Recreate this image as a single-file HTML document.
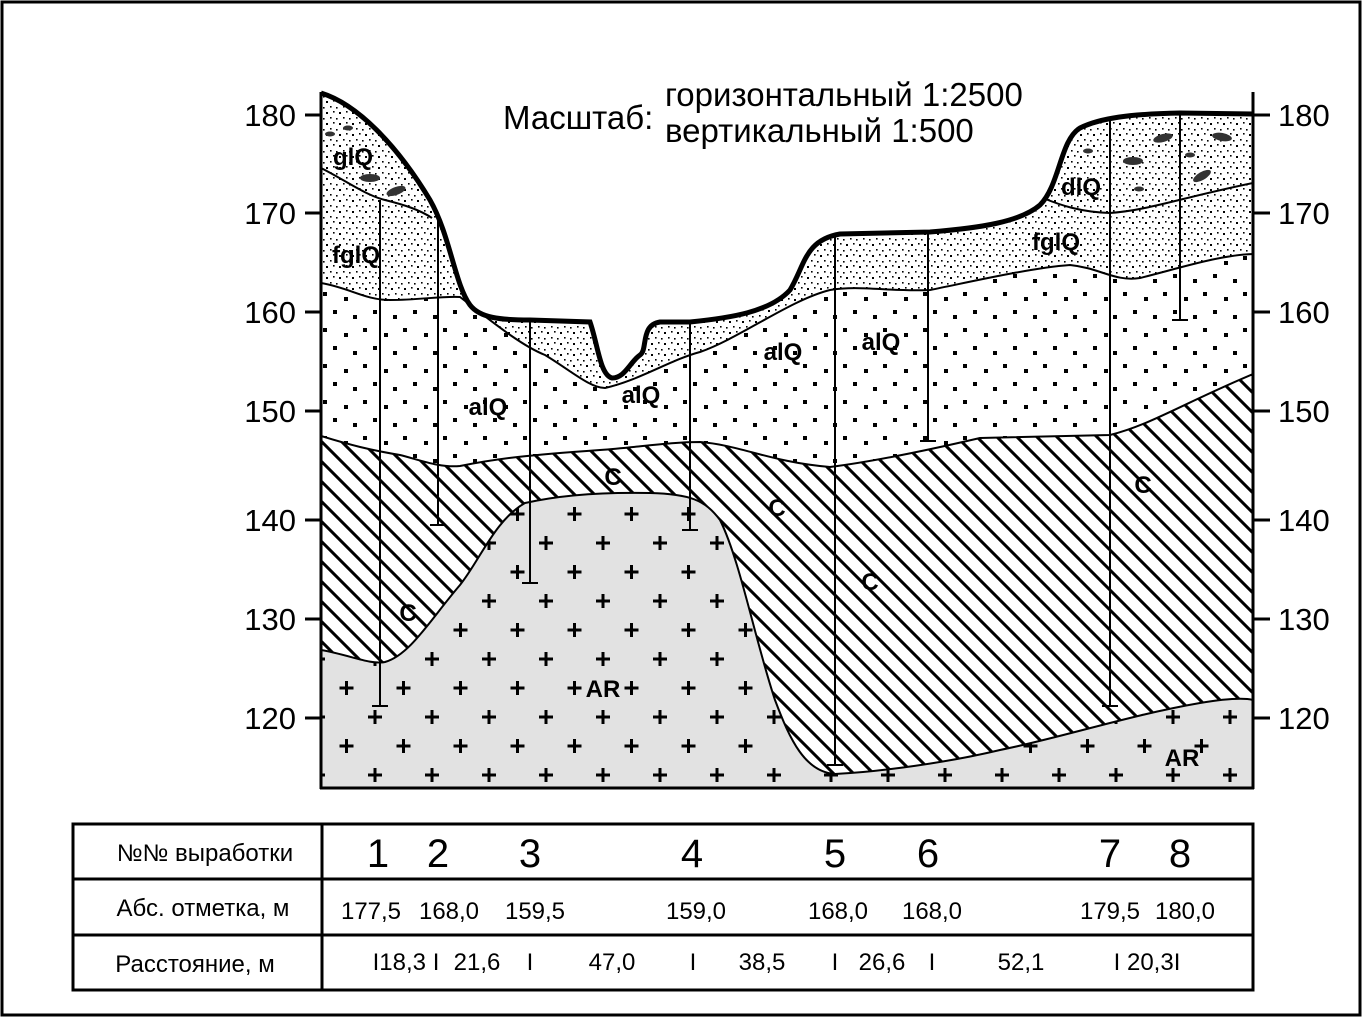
<!DOCTYPE html>
<html><head><meta charset="utf-8"><style>
html,body{margin:0;padding:0;background:#fff}
svg{display:block}
text{font-family:"Liberation Sans",Arial,sans-serif}
</style></head><body>
<svg width="1364" height="1018" viewBox="0 0 1364 1018" xmlns="http://www.w3.org/2000/svg">
<defs>
<pattern id="fine" width="13" height="11" patternUnits="userSpaceOnUse">
<rect width="13" height="11" fill="#fff"/>
<rect x="1" y="2" width="2" height="2" fill="#000"/><rect x="8" y="1" width="1.6" height="1.6" fill="#000"/>
<rect x="5" y="7" width="1.6" height="1.6" fill="#000"/><rect x="11" y="8" width="1.6" height="1.6" fill="#000"/>
</pattern>
<pattern id="coarse" width="40" height="36" patternUnits="userSpaceOnUse">
<rect width="40" height="36" fill="#fff"/>
<rect x="3" y="4" width="4" height="4" fill="#000"/><rect x="24" y="9" width="4" height="4" fill="#000"/>
<rect x="13" y="22" width="4" height="4" fill="#000"/><rect x="33" y="27" width="4" height="4" fill="#000"/>
</pattern>
<pattern id="hatch" width="20" height="20" patternUnits="userSpaceOnUse">
<rect width="20" height="20" fill="#fff"/>
<path d="M-5,-5 L25,25 M-5,15 L5,25 M15,-5 L25,5" stroke="#000" stroke-width="3"/>
</pattern>
<pattern id="plus" width="57" height="58" patternUnits="userSpaceOnUse" x="33" y="21">
<rect width="57" height="58" fill="#e2e2e2"/>
<path d="M-7,0 H7 M0,-7 V7 M50,0 H64 M57,-7 V7 M-7,58 H7 M0,51 V65 M50,58 H64 M57,51 V65 M21.5,29 H35.5 M28.5,22 V36" stroke="#000" stroke-width="3"/>
</pattern>
<clipPath id="plot"><rect x="321" y="80" width="932" height="708"/></clipPath>
</defs>
<rect x="2" y="2" width="1358" height="1013" fill="none" stroke="#000" stroke-width="3"/>

<g clip-path="url(#plot)">
<path d="M321,93 C360,105 400,150 430,200 C450,235 455,285 470,305 C480,318 500,320 530,320 L590,322 C598,345 600,375 612,378 C625,378 630,362 640,355 C648,350 640,325 660,322 L690,322 C730,318 770,312 790,290 C805,265 805,240 840,234 L930,232 C980,228 1020,222 1040,205 C1060,185 1060,140 1080,128 C1100,118 1130,114 1180,113 L1253,114 L1253,788 L321,788 Z" fill="url(#fine)"/>
<path d="M321,283 C350,288 365,300 390,300 C420,300 440,296 460,297 C490,320 520,345 545,355 C570,370 590,388 605,388 C640,380 670,360 700,352 C740,338 790,300 830,290 C860,285 890,292 930,290 C970,282 1030,268 1070,265 C1100,268 1115,282 1140,278 C1180,268 1220,255 1253,254 L1253,788 L321,788 Z" fill="url(#coarse)" stroke="#000" stroke-width="2"/>
<path d="M321,436 C350,445 370,450 400,455 C420,460 440,468 460,466 C500,458 530,455 600,450 C640,447 670,442 700,442 C740,445 770,462 830,467 C870,462 920,452 980,438 L1110,435 C1150,425 1180,405 1253,374 L1253,788 L321,788 Z" fill="url(#hatch)" stroke="#000" stroke-width="2"/>
<path d="M321,650 C350,655 370,665 385,662 C410,655 430,620 460,585 C480,560 495,520 525,503 C560,495 600,492 650,493 C690,494 705,500 720,520 C740,560 755,640 775,700 C790,740 805,772 835,774 C880,772 950,762 1000,750 C1060,738 1130,715 1200,703 C1230,698 1245,698 1253,700 L1253,788 L321,788 Z" fill="url(#plus)" stroke="#000" stroke-width="2"/>
<path d="M321,168 C345,180 365,195 385,200 C405,205 420,210 432,218" fill="none" stroke="#000" stroke-width="2"/>
<path d="M1043,198 C1060,205 1080,212 1110,213 C1150,210 1180,198 1253,183" fill="none" stroke="#000" stroke-width="2"/>
<g fill="#333">
<ellipse cx="330" cy="134" rx="5" ry="2.5"/><ellipse cx="348" cy="128" rx="5" ry="2.5"/>
<ellipse cx="370" cy="178" rx="10" ry="4"/><ellipse cx="396" cy="191" rx="10" ry="4" transform="rotate(-20 396 191)"/>
<ellipse cx="1088" cy="151" rx="5" ry="2.5"/><ellipse cx="1133" cy="161" rx="10" ry="4"/>
<ellipse cx="1163" cy="138" rx="10" ry="4" transform="rotate(-15 1163 138)"/><ellipse cx="1190" cy="155" rx="5" ry="2.5"/>
<ellipse cx="1222" cy="137" rx="10" ry="4" transform="rotate(10 1222 137)"/><ellipse cx="1202" cy="176" rx="10" ry="4" transform="rotate(-30 1202 176)"/>
<ellipse cx="1139" cy="189" rx="5" ry="2.5"/>
</g>
</g>
<path d="M321,93 C360,105 400,150 430,200 C450,235 455,285 470,305 C480,318 500,320 530,320 L590,322 C598,345 600,375 612,378 C625,378 630,362 640,355 C648,350 640,325 660,322 L690,322 C730,318 770,312 790,290 C805,265 805,240 840,234 L930,232 C980,228 1020,222 1040,205 C1060,185 1060,140 1080,128 C1100,118 1130,114 1180,113 L1253,114" fill="none" stroke="#000" stroke-width="5"/>

<g stroke="#000" stroke-width="2">
<path d="M380,200 V706 M372,706 H388"/>
<path d="M438,215 V525 M430,525 H446"/>
<path d="M530,320 V583 M522,583 H538"/>
<path d="M690,322 V530 M682,530 H698"/>
<path d="M835,236 V765 M827,765 H843"/>
<path d="M928,232 V441 M920,441 H936"/>
<path d="M1110,118 V706 M1102,706 H1118"/>
<path d="M1180,113 V320 M1172,320 H1188"/>
</g>

<g stroke="#000" stroke-width="3">
<path d="M321,92 V789 M1253,92 V789 M320,788 H1254"/>
<path d="M305,115 H321 M305,213 H321 M305,312 H321 M305,411 H321 M305,520 H321 M305,619 H321 M305,718 H321"/>
<path d="M1253,115 H1270 M1253,213 H1270 M1253,312 H1270 M1253,411 H1270 M1253,520 H1270 M1253,619 H1270 M1253,718 H1270"/>
</g>
<g font-size="31" text-anchor="end">
<text x="296" y="126">180</text><text x="296" y="224">170</text><text x="296" y="323">160</text><text x="296" y="422">150</text><text x="296" y="531">140</text><text x="296" y="630">130</text><text x="296" y="729">120</text>
</g>
<g font-size="31">
<text x="1278" y="126">180</text><text x="1278" y="224">170</text><text x="1278" y="323">160</text><text x="1278" y="422">150</text><text x="1278" y="531">140</text><text x="1278" y="630">130</text><text x="1278" y="729">120</text>
</g>
<text x="503" y="129" font-size="33">Масштаб:</text>
<text x="665" y="106" font-size="33">горизонтальный 1:2500</text>
<text x="665" y="142" font-size="33">вертикальный 1:500</text>

<g font-size="24" font-weight="bold" text-anchor="middle">
<text x="353" y="165">glQ</text><text x="356" y="263">fglQ</text>
<text x="488" y="415">alQ</text><text x="641" y="403">alQ</text><text x="783" y="360">alQ</text><text x="881" y="350">alQ</text>
<text x="1081" y="195">dlQ</text><text x="1056" y="250">fglQ</text>
<text x="408" y="621">C</text><text x="613" y="485">C</text><text x="777" y="516">C</text><text x="870" y="590">C</text><text x="1143" y="493">C</text>
<text x="603" y="697">AR</text><text x="1182" y="766">AR</text>
</g>

<g stroke="#000" stroke-width="3" fill="none">
<rect x="73" y="824" width="1180" height="166"/>
<path d="M322,824 V990 M73,879 H1253 M73,935 H1253"/>
</g>
<g font-size="24" text-anchor="middle">
<text x="205" y="861">№№ выработки</text>
<text x="203" y="916">Абс. отметка, м</text>
<text x="195" y="972">Расстояние, м</text>
</g>
<g font-size="40" text-anchor="middle">
<text x="378" y="867">1</text><text x="438" y="867">2</text><text x="530" y="867">3</text><text x="692" y="867">4</text><text x="835" y="867">5</text><text x="928" y="867">6</text><text x="1110" y="867">7</text><text x="1180" y="867">8</text>
</g>
<g font-size="24" text-anchor="middle">
<text x="371" y="919">177,5</text><text x="449" y="919">168,0</text><text x="535" y="919">159,5</text><text x="696" y="919">159,0</text><text x="838" y="919">168,0</text><text x="932" y="919">168,0</text><text x="1110" y="919">179,5</text><text x="1185" y="919">180,0</text>
<text x="406" y="970">I18,3 I</text><text x="477" y="970">21,6</text><text x="530" y="970">I</text><text x="612" y="970">47,0</text><text x="693" y="970">I</text><text x="762" y="970">38,5</text><text x="835" y="970">I</text><text x="882" y="970">26,6</text><text x="932" y="970">I</text><text x="1021" y="970">52,1</text><text x="1147" y="970">I 20,3I</text>
</g>
</svg>
</body></html>
